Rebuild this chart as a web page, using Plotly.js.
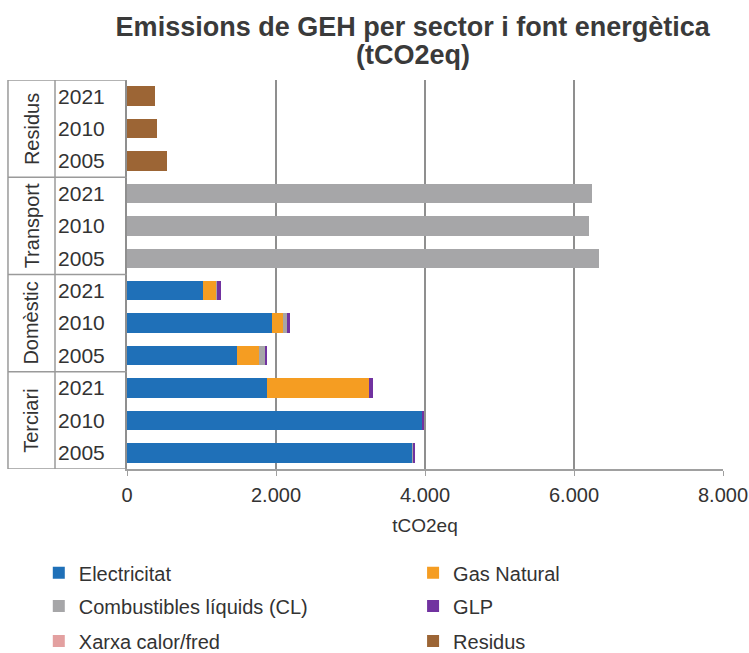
<!DOCTYPE html>
<html>
<head>
<meta charset="utf-8">
<script src="https://cdn.plot.ly/plotly-3.0.1.min.js"></script>
<style>html,body{margin:0;padding:0;background:#fff;}#chart{width:749px;height:653px;}</style>
</head>
<body>
<div id="chart"></div>
<script>
// Categories, bottom to top
const sectors = ['Terciari','Terciari','Terciari','Domèstic','Domèstic','Domèstic','Transport','Transport','Transport','Residus','Residus','Residus'];
const years   = ['2005','2010','2021','2005','2010','2021','2005','2010','2021','2005','2010','2021'];
const sectorNames = ['Terciari','Domèstic','Transport','Residus'];

// Series values (tCO2eq), same order as categories
const electricitat = [3821, 3955, 1879, 1481, 1942, 1024, 0, 0, 0, 0, 0, 0];
const gasNatural   = [0, 0, 1374, 291, 156, 166, 0, 0, 0, 0, 0, 0];
const combLiquids  = [13, 0, 0, 76, 53, 14, 6340, 6206, 6237, 0, 0, 0];
const glp          = [32, 36, 54, 31, 32, 58, 0, 0, 0, 0, 0, 0];
const xarxa        = [0, 0, 0, 0, 0, 0, 0, 0, 0, 0, 0, 0];
const residus      = [0, 0, 0, 0, 0, 0, 0, 0, 0, 541, 407, 376];

const xTicks = [0, 2000, 4000, 6000, 8000];

const seriesNames = ['Electricitat','Gas Natural','Combustibles líquids (CL)','GLP','Xarxa calor/fred','Residus'];
const seriesData = [electricitat, gasNatural, combLiquids, glp, xarxa, residus];
const colors = ['#1f70b8','#f59d22','#a6a6a8','#7132a0','#e3a0a0','#9c6535'];

const cats = sectors.map((s, i) => s + ' ' + years[i]);

const FONT = 'Liberation Sans, Arial, sans-serif';
const TXT = '#333333';

// Legend layout: 3 rows x 2 columns, each entry its own legend
const legendX = [-0.148, 0.48];
const legendY = [-0.267, -0.352, -0.442];

const traces = seriesNames.map((name, k) => ({
  type: 'bar',
  orientation: 'h',
  name: name,
  y: cats,
  x: seriesData[k],
  marker: {color: colors[k], line: {width: 0}},
  legend: k === 0 ? 'legend' : 'legend' + (k + 1),
  hoverinfo: 'x+name'
}));

const layout = {
  width: 749, height: 653,
  paper_bgcolor: '#ffffff', plot_bgcolor: '#ffffff',
  font: {family: FONT, color: TXT, size: 20},
  separators: ',.',
  barmode: 'stack',
  bargap: 0.4,
  margin: {l: 127, r: 26, t: 80, b: 184, autoexpand: false},
  title: {
    text: '<b>Emissions de GEH per sector i font energètica</b>',
    font: {family: FONT, size: 27, color: '#3a3a3a'},
    x: 0.551, xanchor: 'center', xref: 'container',
    y: 1 - 27 / 653, yanchor: 'middle', yref: 'container'
  },
  xaxis: {
    range: [0, 8000],
    tickvals: xTicks,
    tickformat: ',d',
    showgrid: true, gridcolor: '#8f8f8f', gridwidth: 2,
    zeroline: false,
    showline: true, linecolor: '#a0a0a0', linewidth: 1.5,
    ticks: 'outside', ticklen: 5, tickcolor: '#a0a0a0',
    ticklabelstandoff: 2,
    tickfont: {size: 20, color: TXT},
    title: {text: 'tCO2eq', font: {size: 19, color: TXT}, standoff: 14},
    automargin: false,
    fixedrange: true
  },
  yaxis: {
    type: 'category',
    categoryorder: 'array', categoryarray: cats,
    tickvals: cats, ticktext: years,
    range: [-0.5, 11.5],
    showgrid: false, zeroline: false,
    showline: true, linecolor: '#8f8f8f', linewidth: 2,
    ticks: '', ticklabelstandoff: 16,
    tickfont: {size: 21, color: TXT},
    automargin: false,
    fixedrange: true
  },
  shapes: [],
  annotations: [{
    xref: 'paper', yref: 'paper', x: (413 - 127) / 596, y: (469 - 55) / 389,
    text: '<b>(tCO2eq)</b>', showarrow: false,
    font: {family: FONT, size: 27, color: '#3a3a3a'},
    xanchor: 'center', yanchor: 'middle'
  }],
  showlegend: true
};

// Label box around the category area
const boxL = -0.1997, boxMid = -0.1208;
const lineStyle = {color: '#9a9a9a', width: 1.5};
[-0.5, 2.5, 5.5, 8.5, 11.5].forEach(yv => {
  layout.shapes.push({type: 'line', xref: 'paper', yref: 'y', x0: boxL, x1: 0, y0: yv, y1: yv, line: lineStyle});
});
layout.shapes.push({type: 'line', xref: 'paper', yref: 'y', x0: boxL, x1: boxL, y0: -0.5, y1: 11.5, line: lineStyle});
layout.shapes.push({type: 'line', xref: 'paper', yref: 'y', x0: boxMid, x1: boxMid, y0: -0.5, y1: 11.5, line: lineStyle});

sectorNames.forEach((s, g) => {
  layout.annotations.push({
    xref: 'paper', yref: 'y', x: (boxL + boxMid) / 2, y: g * 3 + 1,
    text: s, textangle: -90, showarrow: false,
    font: {family: FONT, size: 20, color: TXT},
    xanchor: 'center', yanchor: 'middle'
  });
});

seriesNames.forEach((n, k) => {
  const key = k === 0 ? 'legend' : 'legend' + (k + 1);
  layout[key] = {
    orientation: 'h',
    x: legendX[k % 2], xanchor: 'left',
    y: legendY[Math.floor(k / 2)], yanchor: 'middle',
    font: {family: FONT, size: 20, color: TXT},
    bgcolor: 'rgba(0,0,0,0)',
    itemwidth: 30
  };
});

Plotly.newPlot('chart', traces, layout, {displayModeBar: false, staticPlot: true});
</script>
</body>
</html>
